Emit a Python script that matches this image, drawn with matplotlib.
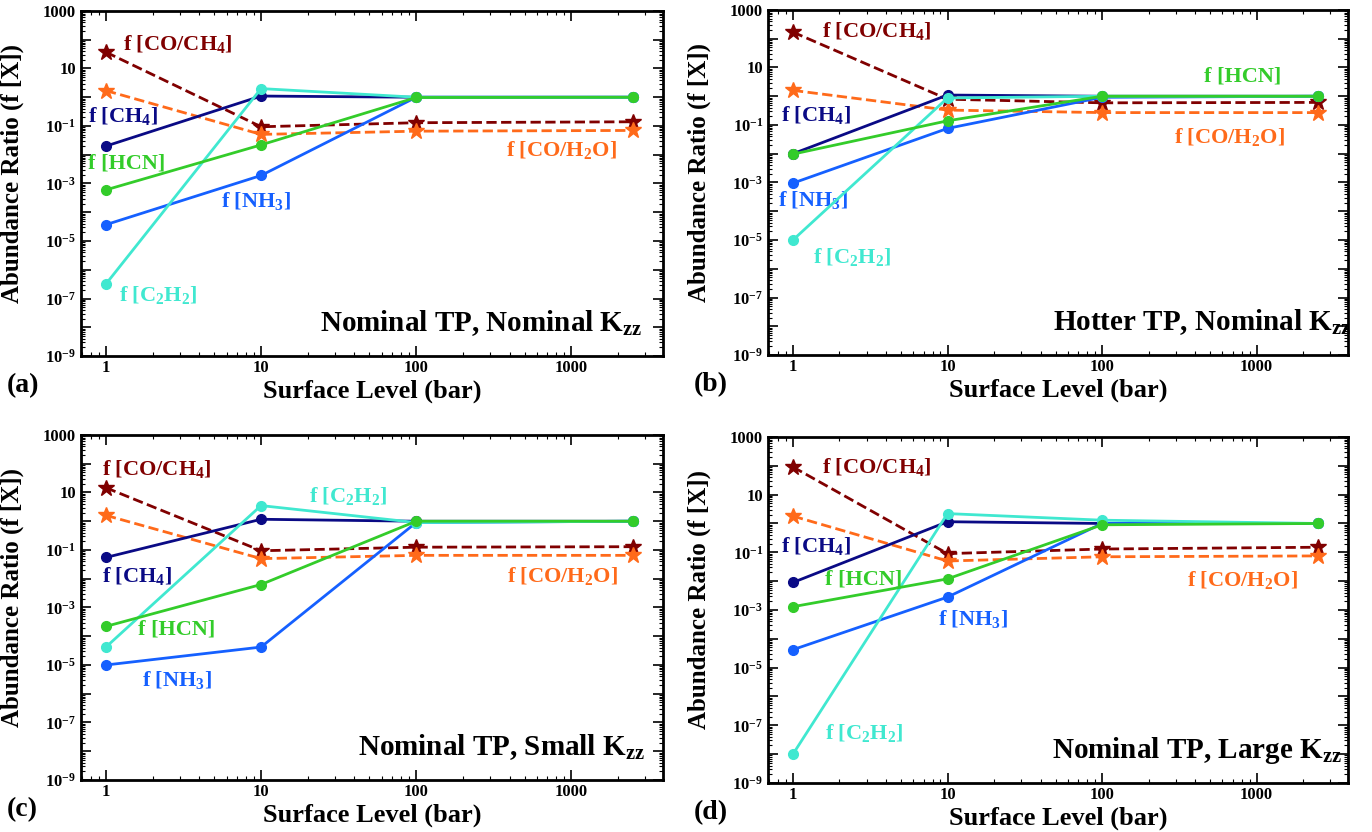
import numpy as np
import matplotlib
matplotlib.use("Agg")
import matplotlib.pyplot as plt
from matplotlib.ticker import LogLocator, FixedLocator, FixedFormatter, NullFormatter

plt.rcParams['font.family'] = ['Liberation Serif', 'DejaVu Serif']
plt.rcParams['font.weight'] = 'bold'
plt.rcParams['mathtext.fontset'] = 'custom'
plt.rcParams['mathtext.rm'] = 'Liberation Serif:bold'
plt.rcParams['mathtext.it'] = 'Liberation Serif:bold'
plt.rcParams['mathtext.bf'] = 'Liberation Serif:bold'

# --- Data ---
pressure = [1, 10, 100, 2500]

# (a) Nominal TP, Nominal Kzz
a_co_ch4 = [37, 0.094, 0.13, 0.14]
a_co_h2o = [1.7, 0.051, 0.066, 0.07]
a_ch4 = [0.020, 1.1, 1.0, 1.0]
a_hcn = [6e-4, 0.022, 0.98, 1.0]
a_nh3 = [3.7e-5, 1.9e-3, 1.0, 1.0]
a_c2h2 = [3.2e-7, 2.0, 1.0, 1.0]

# (b) Hotter TP, Nominal Kzz
b_co_ch4 = [170, 0.79, 0.59, 0.61]
b_co_h2o = [1.6, 0.33, 0.27, 0.27]
b_ch4 = [0.010, 1.1, 1.0, 1.0]
b_hcn = [0.0097, 0.14, 1.0, 1.0]
b_nh3 = [9.5e-4, 0.076, 0.92, 1.0]
b_c2h2 = [1e-5, 0.87, 1.0, 1.0]

# (c) Nominal TP, Small Kzz
c_co_ch4 = [14.6, 0.094, 0.125, 0.13]
c_co_h2o = [1.6, 0.05, 0.065, 0.065]
c_ch4 = [0.055, 1.17, 1.0, 1.0]
c_hcn = [2.2e-4, 6.3e-3, 1.0, 1.0]
c_nh3 = [1e-5, 4.2e-5, 0.9, 1.0]
c_c2h2 = [4.2e-5, 3.5, 0.9, 1.0]

# (d) Nominal TP, Large Kzz
d_co_ch4 = [91, 0.09, 0.13, 0.15]
d_co_h2o = [1.8, 0.05, 0.07, 0.075]
d_ch4 = [0.009, 1.15, 1.0, 1.0]
d_hcn = [1.3e-3, 0.012, 0.9, 1.0]
d_nh3 = [4.2e-5, 2.8e-3, 1.0, 1.0]
d_c2h2 = [1e-8, 2.2, 1.3, 1.0]

species = ['co_ch4', 'co_h2o', 'ch4', 'nh3', 'c2h2', 'hcn']
labels = {
    'co_ch4': r'f [CO/CH$_4$]',
    'co_h2o': r'f [CO/H$_2$O]',
    'ch4': r'f [CH$_4$]',
    'hcn': 'f [HCN]',
    'nh3': r'f [NH$_3$]',
    'c2h2': r'f [C$_2$H$_2$]',
}
colors = {
    'co_ch4': '#800000',
    'co_h2o': '#ff6a1a',
    'ch4': '#0a0a85',
    'hcn': '#33cc2a',
    'nh3': '#1560ff',
    'c2h2': '#40e8d0',
}

# label anchor points (data coords, left edge / vertical centre)
a_lab = {'co_ch4': (1.29, 70), 'ch4': (0.77, 0.22), 'hcn': (0.77, 4.9e-3),
         'nh3': (5.5, 2.4e-4), 'c2h2': (1.21, 1.3e-7), 'co_h2o': (380, 0.0144)}
b_lab = {'co_ch4': (1.55, 182), 'hcn': (455, 4.7), 'ch4': (0.84, 0.22),
         'co_h2o': (290, 0.037), 'nh3': (0.80, 2.4e-4), 'c2h2': (1.35, 2.6e-6)}
c_lab = {'co_ch4': (0.94, 65), 'c2h2': (20.4, 7.8), 'ch4': (0.94, 0.0126),
         'hcn': (1.62, 1.7e-4), 'nh3': (1.7, 2.9e-6), 'co_h2o': (385, 0.0126)}
d_lab = {'co_ch4': (1.55, 91), 'ch4': (0.84, 0.17), 'hcn': (1.62, 0.011),
         'co_h2o': (355, 0.011), 'nh3': (8.7, 4.9e-4), 'c2h2': (1.62, 5.4e-8)}

panels = [
    ('(a)', 'Nominal TP, Nominal K$_{zz}$', [0.0590, 0.5721, 0.4242, 0.4147], 0.965,
     {'co_ch4': a_co_ch4, 'co_h2o': a_co_h2o, 'ch4': a_ch4, 'hcn': a_hcn, 'nh3': a_nh3, 'c2h2': a_c2h2}, a_lab),
    ('(b)', 'Hotter TP, Nominal K$_{zz}$', [0.5598, 0.5733, 0.4227, 0.4147], 1.005,
     {'co_ch4': b_co_ch4, 'co_h2o': b_co_h2o, 'ch4': b_ch4, 'hcn': b_hcn, 'nh3': b_nh3, 'c2h2': b_c2h2}, b_lab),
    ('(c)', 'Nominal TP, Small K$_{zz}$', [0.0590, 0.0625, 0.4242, 0.4147], 0.969,
     {'co_ch4': c_co_ch4, 'co_h2o': c_co_h2o, 'ch4': c_ch4, 'hcn': c_hcn, 'nh3': c_nh3, 'c2h2': c_c2h2}, c_lab),
    ('(d)', 'Nominal TP, Large K$_{zz}$', [0.5598, 0.0589, 0.4227, 0.4159], 0.99,
     {'co_ch4': d_co_ch4, 'co_h2o': d_co_h2o, 'ch4': d_ch4, 'hcn': d_hcn, 'nh3': d_nh3, 'c2h2': d_c2h2}, d_lab),
]

ytick_vals = [10.0 ** e for e in range(-9, 4)]
ytick_labs = []
for e in range(-9, 4):
    if e % 2 == 0:
        ytick_labs.append('')
    elif e == 3:
        ytick_labs.append('1000')
    elif e == 1:
        ytick_labs.append('10')
    else:
        ytick_labs.append(r'$10^{%d}$' % e)

fig = plt.figure(figsize=(13.72, 8.32), dpi=100)

for tag, title, rect, title_x, data, lab in panels:
    ax = fig.add_axes(rect)
    for sp in species:
        if sp.startswith('co_'):
            ax.plot(pressure, data[sp], ls='--', lw=2, color=colors[sp],
                    marker='*', ms=12, zorder=2)
        else:
            ax.plot(pressure, data[sp], ls='-', lw=2, color=colors[sp],
                    marker='o', ms=7, zorder=3)
        ax.text(lab[sp][0], lab[sp][1], labels[sp], color=colors[sp],
                fontsize=16, fontweight='bold', ha='left', va='center')

    ax.set_xscale('log')
    ax.set_yscale('log')
    ax.set_xlim(0.69, 3900)
    ax.set_ylim(1e-9, 1e3)

    ax.set_xticks([1, 10, 100, 1000])
    ax.set_xticklabels(['1', '10', '100', '1000'])
    ax.xaxis.set_minor_locator(LogLocator(base=10, subs=np.arange(2, 10), numticks=50))
    ax.xaxis.set_minor_formatter(NullFormatter())
    ax.yaxis.set_major_locator(FixedLocator(ytick_vals))
    ax.yaxis.set_major_formatter(FixedFormatter(ytick_labs))
    ax.yaxis.set_minor_locator(LogLocator(base=10, subs=np.arange(2, 10), numticks=50))
    ax.yaxis.set_minor_formatter(NullFormatter())

    ax.tick_params(which='both', direction='in', top=True, right=True, labelsize=12)
    ax.tick_params(axis='x', which='major', pad=3)
    ax.tick_params(which='major', length=7, width=1.2)
    ax.tick_params(which='minor', length=3, width=0.8)
    for s in ax.spines.values():
        s.set_linewidth(2)

    ax.set_xlabel('Surface Level (bar)', fontsize=19, fontweight='bold')
    ax.xaxis.set_label_coords(0.5, -0.068)
    ax.set_ylabel('Abundance Ratio (f [X])', fontsize=18, fontweight='bold')
    ax.yaxis.set_label_coords(-0.098, 0.53)

    ax.text(title_x, 0.095, title, transform=ax.transAxes, ha='right', va='center',
            fontsize=21, fontweight='bold', color='black')

    fig.text(rect[0] - 0.054, rect[1] - 0.036, tag, fontsize=20, fontweight='bold',
             ha='left', va='center')

fig.savefig('out.png', dpi=100)
